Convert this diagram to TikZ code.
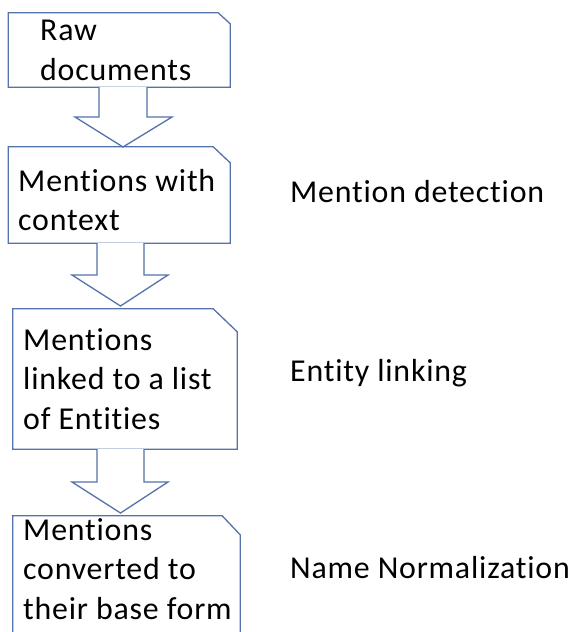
\documentclass[tikz,border=0pt]{standalone}
\usepackage{fontspec}
\setmainfont{Carlito}[Ligatures={NoCommon,NoContextual},LetterSpace=2.5]
\usetikzlibrary{calc}
\definecolor{boxblue}{RGB}{84,114,172}
\tikzset{
  boxframe/.style={draw=none,rectangle,inner sep=0pt},
  chamfer/.style={draw=boxblue,line width=1.3bp,line join=miter},
  blockarr/.style={draw=boxblue,line width=1.3bp,line join=miter,fill=white},
  txt/.style={anchor=base west,inner sep=0pt,text=black,font=\fontsize{32}{40}\selectfont}
}
\newcommand\lines[1]{\begin{tabular}[t]{@{}l@{}}#1\end{tabular}}
\begin{document}
\begin{tikzpicture}[x=1bp,y=-1bp]
\useasboundingbox (0,0) rectangle (577,632);
\clip (0,0) rectangle (577,632);
\fill[white] (0,0) rectangle (577,632);
% box frames
\node[boxframe,minimum width=221.5bp,minimum height=74bp] (b1) at (119.25,50) {};
\node[boxframe,minimum width=221.5bp,minimum height=96bp] (b2) at (119.25,195) {};
\node[boxframe,minimum width=224bp,minimum height=140bp] (b3) at (125,379) {};
\node[boxframe,minimum width=227bp,minimum height=134bp] (b4) at (126.5,583) {};
% chamfered outlines
\draw[chamfer] (b1.south west) -- (b1.north west) -- ($(b1.north east)+(-12,0)$) -- ($(b1.north east)+(0,11)$) -- (b1.south east) -- cycle;
\draw[chamfer] (b2.south west) -- (b2.north west) -- ($(b2.north east)+(-17,0)$) -- ($(b2.north east)+(0,16)$) -- (b2.south east) -- cycle;
\draw[chamfer] (b3.south west) -- (b3.north west) -- ($(b3.north east)+(-24,0)$) -- ($(b3.north east)+(0,23)$) -- (b3.south east) -- cycle;
\draw[chamfer] (b4.south west) -- (b4.north west) -- ($(b4.north east)+(-18,0)$) -- ($(b4.north east)+(0,19)$) -- (b4.south east) -- cycle;
% block arrows
\coordinate (a1s) at (123,87);
\coordinate (a1t) at (123,147);
\coordinate (a2s) at (120.5,243);
\coordinate (a2t) at (120.5,306);
\coordinate (a3s) at (120.5,449);
\coordinate (a3t) at (120.5,513);
\draw[blockarr] ($(a1s)+(-24,0)$) -- ($(a1s)+(-24,30)$) -- ($(a1s)+(-48,30)$) -- (a1t) -- ($(a1s)+(49,30)$) -- ($(a1s)+(24,30)$) -- ($(a1s)+(24,0)$);
\draw[blockarr] ($(a2s)+(-23.5,0)$) -- ($(a2s)+(-23.5,32)$) -- ($(a2s)+(-48.5,32)$) -- (a2t) -- ($(a2s)+(47.5,32)$) -- ($(a2s)+(23.5,32)$) -- ($(a2s)+(23.5,0)$);
\draw[blockarr] ($(a3s)+(-23.5,0)$) -- ($(a3s)+(-23.5,33)$) -- ($(a3s)+(-48.5,33)$) -- (a3t) -- ($(a3s)+(47.5,33)$) -- ($(a3s)+(23.5,33)$) -- ($(a3s)+(23.5,0)$);
% box texts
\node[txt] (t1) at (40,41) {\lines{Raw\\documents}};
\node[txt] (t2) at (18,191) {\lines{Mentions with\\context}};
\node[txt] (t3) at (23,350) {\lines{Mentions\\linked to a list\\of Entities}};
\node[txt] (t4) at (23,540) {\lines{Mentions\\converted to\\their base form}};
% stage labels
\node[txt] (l1) at (290,202) {Mention detection};
\node[txt] (l2) at (290,381) {Entity linking};
\node[txt] (l3) at (290,578) {Name Normalization};
\end{tikzpicture}
\end{document}
